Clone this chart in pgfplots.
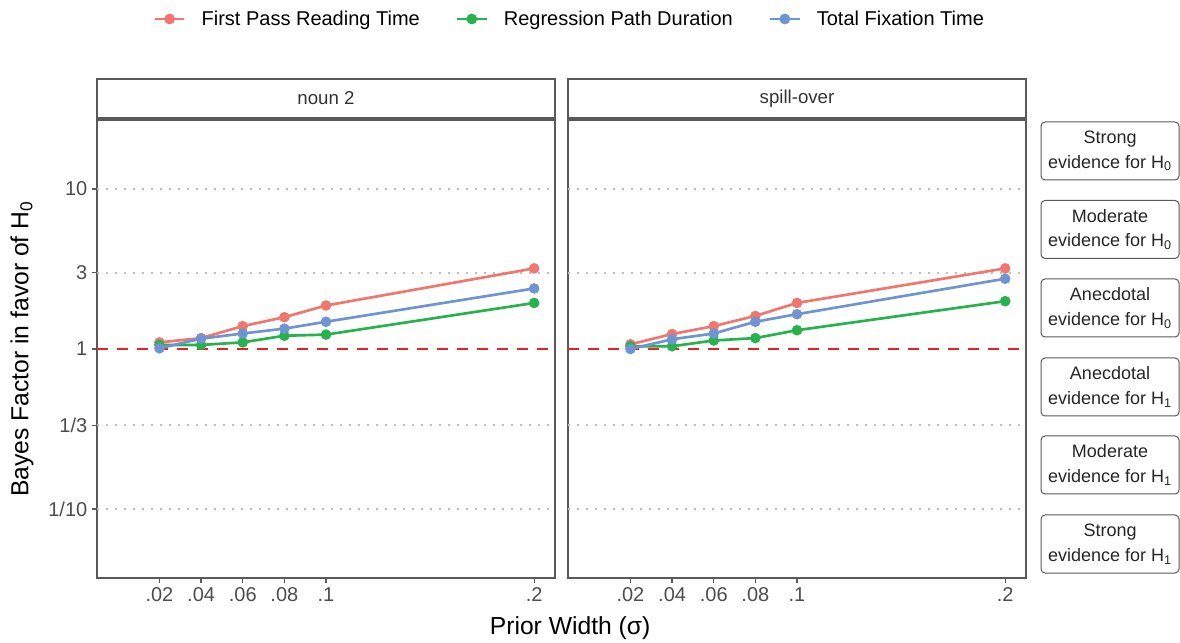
\documentclass[border=0pt]{standalone}
\usepackage{fontspec}
\setmainfont{Liberation Sans}
\usepackage{pgfplots}
\pgfplotsset{compat=1.18}

\definecolor{cFP}{RGB}{240,118,110}
\definecolor{cRP}{RGB}{38,178,76}
\definecolor{cTF}{RGB}{110,149,210}
\definecolor{frame}{RGB}{89,89,89}
\definecolor{ticktext}{RGB}{77,77,77}
\definecolor{gridc}{RGB}{190,190,190}
\definecolor{refred}{RGB}{236,32,36}

\tikzset{
  hl/.style={draw=gridc, line width=1.5pt, dash pattern=on 1.5pt off 5.25pt},
  refl/.style={draw=refred, line width=2pt, dash pattern=on 8.5pt off 6.5pt},
}
\pgfplotsset{
  panel/.style={
    scale only axis, width=343.5pt, height=343.5pt,
    xmin=-0.01, xmax=0.21,
    ymin=0.03706, ymax=26.98,
    axis line style={draw=frame, line width=1.5pt},
    xtick={0.02,0.04,0.06,0.08,0.1,0.2},
    xticklabels={.02,.04,.06,.08,.1,.2},
    tick align=outside, xtick pos=bottom, ytick pos=left,
    major tick length=3.75pt,
    tick style={draw=frame, line width=1pt},
    ticklabel style={font=\fontsize{15}{18}\selectfont, text=ticktext},
    clip=false,
  },
  ser/.style={line width=2pt, mark=*, mark size=3.7pt,
    mark options={line width=0.5pt, draw=#1, fill=#1}, color=#1},
}
\newcommand{\guides}{%
  \draw[hl] (axis cs:-0.01,10) -- (axis cs:0.21,10);
  \draw[hl] (axis cs:-0.01,3) -- (axis cs:0.21,3);
  \draw[hl] (axis cs:-0.01,0.33333) -- (axis cs:0.21,0.33333);
  \draw[hl] (axis cs:-0.01,0.1) -- (axis cs:0.21,0.1);
  \draw[refl] (axis cs:-0.01,1) -- (axis cs:0.21,1);
}

\begin{document}
\begin{tikzpicture}
\begin{axis}[ymode=log, panel, name=ax1, at={(0pt,0pt)}, anchor=south west,
  ytick={0.1,0.33333,1,3,10},
  yticklabels={1/10,1/3,1,3,10},
  legend style={at={(1.033,1.2205)}, anchor=center, draw=none, fill=none,
    legend columns=3, font=\fontsize{15}{18}\selectfont,
    /tikz/every odd column/.append style={column sep=10pt},
    /tikz/every even column/.append style={column sep=25pt}},
  legend cell align=left,
  legend image code/.code={
    \draw[#1, line width=2pt] (0pt,0pt) -- (22pt,0pt);
    \fill[#1] (11pt,0pt) circle (3pt);
  },
]
\guides
\addplot[ser=cFP] coordinates {(0.02,1.10) (0.04,1.17) (0.06,1.39) (0.08,1.58) (0.1,1.87) (0.2,3.19)};
\addplot[ser=cRP] coordinates {(0.02,1.06) (0.04,1.06) (0.06,1.10) (0.08,1.21) (0.1,1.23) (0.2,1.94)};
\addplot[ser=cTF] coordinates {(0.02,1.01) (0.04,1.16) (0.06,1.25) (0.08,1.34) (0.1,1.48) (0.2,2.39)};
\legend{First Pass Reading Time, Regression Path Duration, Total Fixation Time}
\node[rotate=90, font=\fontsize{18.5}{22}\selectfont] at (rel axis cs:-0.1638,0.5) {Bayes Factor in favor of H\textsubscript{0}};
\node[font=\fontsize{18.5}{22}\selectfont] at (rel axis cs:1.033,-0.109) {Prior Width (σ)};
\end{axis}

\begin{axis}[ymode=log, panel, name=ax2, at={(353.25pt,0pt)}, anchor=south west,
  ytick=\empty]
\guides
\addplot[ser=cFP] coordinates {(0.02,1.07) (0.04,1.24) (0.06,1.39) (0.08,1.61) (0.1,1.94) (0.2,3.19)};
\addplot[ser=cRP] coordinates {(0.02,1.04) (0.04,1.04) (0.06,1.13) (0.08,1.17) (0.1,1.31) (0.2,1.99)};
\addplot[ser=cTF] coordinates {(0.02,1.00) (0.04,1.15) (0.06,1.25) (0.08,1.48) (0.1,1.65) (0.2,2.75)};
\end{axis}

% facet strips
\draw[frame, line width=1pt] (0pt,345pt) rectangle (343.5pt,374.25pt);
\draw[frame, line width=1pt] (353.25pt,345pt) rectangle (696.75pt,374.25pt);
\node[font=\fontsize{14}{17}\selectfont, text=black!80] at (171.75pt,359.6pt) {noun 2};
\node[font=\fontsize{14}{17}\selectfont, text=black!80] at (525pt,359.6pt) {spill-over};

% evidence boxes
\foreach \yy/\aa/\hh in {320.25/Strong/0, 261.4/Moderate/0, 202.5/Anecdotal/0,
                        143.25/Anecdotal/1, 84.75/Moderate/1, 25.5/Strong/1} {
  \node[draw=frame, line width=0.75pt, rounded corners=3pt, minimum width=103.5pt,
        minimum height=43.5pt, inner sep=0pt, align=center,
        font=\fontsize{13.5}{18.5}\selectfont, text=black!85]
    at (759.75pt,\yy pt) {\aa\\evidence for H\textsubscript{\hh}};
}

\pgfresetboundingbox
\useasboundingbox (-72.75pt,-48pt) rectangle (812.25pt,433.5pt);
\end{tikzpicture}
\end{document}
